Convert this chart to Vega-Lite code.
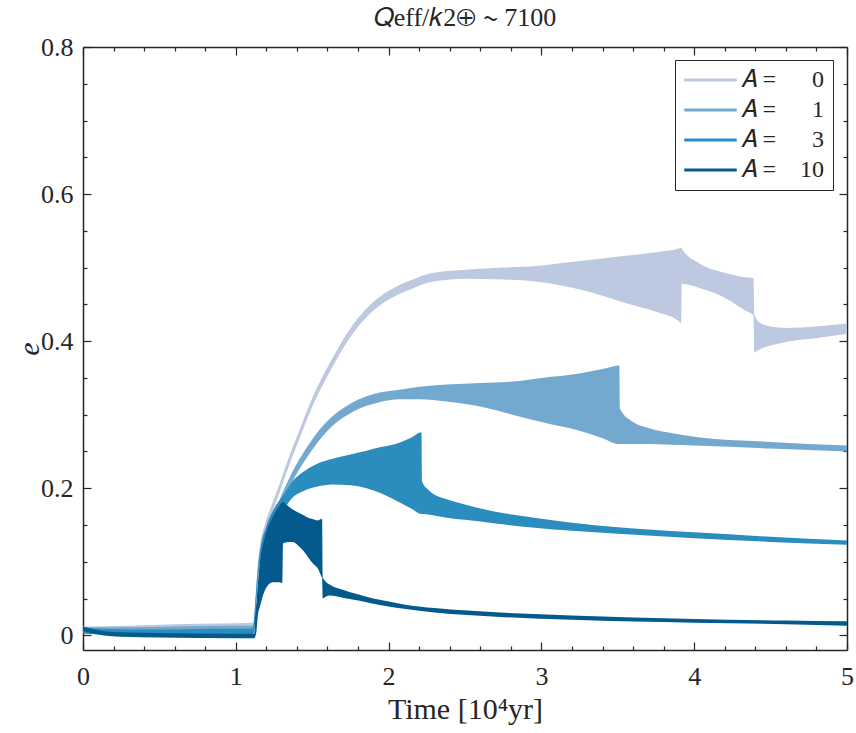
{
  "$schema": "https://vega.github.io/schema/vega-lite/v6.json",
  "width": 764,
  "height": 603,
  "autosize": {"type": "none"},
  "padding": {"left": 83, "top": 47, "right": 9, "bottom": 83},
  "background": "white",
  "config": {
    "view": {"stroke": null},
    "font": "Liberation Serif",
    "axis": {"labelFont": "Liberation Serif", "titleFont": "Liberation Serif"},
    "legend": {"labelFont": "Liberation Serif"}
  },
  "title": {
    "text": "𝑄eff/𝑘2⊕ ∼ 7100",
    "font": "Liberation Serif",
    "fontSize": 26,
    "fontWeight": "normal",
    "color": "#262626",
    "anchor": "middle",
    "offset": 3
  },
  "data": {
    "values": [
      {"s": "0", "x": 0, "lo": 0.004, "hi": 0.012},
      {"s": "0", "x": 0.3, "lo": 0.005, "hi": 0.013},
      {"s": "0", "x": 0.6, "lo": 0.005, "hi": 0.015},
      {"s": "0", "x": 0.9, "lo": 0.005, "hi": 0.016},
      {"s": "0", "x": 1.11, "lo": 0.005, "hi": 0.017},
      {"s": "0", "x": 1.12, "lo": 0.01, "hi": 0.025},
      {"s": "0", "x": 1.13, "lo": 0.04, "hi": 0.055},
      {"s": "0", "x": 1.145, "lo": 0.083, "hi": 0.097},
      {"s": "0", "x": 1.16, "lo": 0.111, "hi": 0.124},
      {"s": "0", "x": 1.19, "lo": 0.139, "hi": 0.151},
      {"s": "0", "x": 1.22, "lo": 0.157, "hi": 0.169},
      {"s": "0", "x": 1.26, "lo": 0.179, "hi": 0.191},
      {"s": "0", "x": 1.3, "lo": 0.202, "hi": 0.214},
      {"s": "0", "x": 1.333, "lo": 0.222, "hi": 0.234},
      {"s": "0", "x": 1.418, "lo": 0.268, "hi": 0.28},
      {"s": "0", "x": 1.503, "lo": 0.312, "hi": 0.324},
      {"s": "0", "x": 1.614, "lo": 0.358, "hi": 0.37},
      {"s": "0", "x": 1.745, "lo": 0.404, "hi": 0.416},
      {"s": "0", "x": 1.84, "lo": 0.429, "hi": 0.441},
      {"s": "0", "x": 1.94, "lo": 0.448, "hi": 0.46},
      {"s": "0", "x": 2.05, "lo": 0.462, "hi": 0.474},
      {"s": "0", "x": 2.15, "lo": 0.471, "hi": 0.483},
      {"s": "0", "x": 2.27, "lo": 0.48, "hi": 0.492},
      {"s": "0", "x": 2.5, "lo": 0.485, "hi": 0.497},
      {"s": "0", "x": 2.75, "lo": 0.484, "hi": 0.5},
      {"s": "0", "x": 3.0, "lo": 0.48, "hi": 0.503},
      {"s": "0", "x": 3.12, "lo": 0.476, "hi": 0.506},
      {"s": "0", "x": 3.3, "lo": 0.468, "hi": 0.51},
      {"s": "0", "x": 3.55, "lo": 0.452, "hi": 0.516},
      {"s": "0", "x": 3.75, "lo": 0.44, "hi": 0.521},
      {"s": "0", "x": 3.9, "lo": 0.427, "hi": 0.526},
      {"s": "0", "x": 3.915, "lo": 0.424, "hi": 0.527},
      {"s": "0", "x": 3.918, "lo": 0.478, "hi": 0.526},
      {"s": "0", "x": 4.04, "lo": 0.472, "hi": 0.505},
      {"s": "0", "x": 4.2, "lo": 0.459, "hi": 0.493},
      {"s": "0", "x": 4.33, "lo": 0.442, "hi": 0.487},
      {"s": "0", "x": 4.388, "lo": 0.435, "hi": 0.486},
      {"s": "0", "x": 4.393, "lo": 0.385, "hi": 0.437},
      {"s": "0", "x": 4.43, "lo": 0.389, "hi": 0.425},
      {"s": "0", "x": 4.5, "lo": 0.394, "hi": 0.42},
      {"s": "0", "x": 4.6, "lo": 0.399, "hi": 0.418},
      {"s": "0", "x": 4.8, "lo": 0.404, "hi": 0.42},
      {"s": "0", "x": 5.0, "lo": 0.41, "hi": 0.424},

      {"s": "1", "x": 0, "lo": 0.003, "hi": 0.011},
      {"s": "1", "x": 0.3, "lo": 0.002, "hi": 0.011},
      {"s": "1", "x": 0.6, "lo": 0.002, "hi": 0.012},
      {"s": "1", "x": 0.9, "lo": 0.002, "hi": 0.013},
      {"s": "1", "x": 1.11, "lo": 0.002, "hi": 0.013},
      {"s": "1", "x": 1.12, "lo": 0.008, "hi": 0.022},
      {"s": "1", "x": 1.13, "lo": 0.038, "hi": 0.052},
      {"s": "1", "x": 1.145, "lo": 0.08, "hi": 0.094},
      {"s": "1", "x": 1.16, "lo": 0.106, "hi": 0.119},
      {"s": "1", "x": 1.2, "lo": 0.135, "hi": 0.147},
      {"s": "1", "x": 1.255, "lo": 0.157, "hi": 0.169},
      {"s": "1", "x": 1.31, "lo": 0.184, "hi": 0.196},
      {"s": "1", "x": 1.37, "lo": 0.209, "hi": 0.222},
      {"s": "1", "x": 1.46, "lo": 0.24, "hi": 0.254},
      {"s": "1", "x": 1.57, "lo": 0.271, "hi": 0.285},
      {"s": "1", "x": 1.65, "lo": 0.288, "hi": 0.301},
      {"s": "1", "x": 1.75, "lo": 0.302, "hi": 0.315},
      {"s": "1", "x": 1.856, "lo": 0.312, "hi": 0.325},
      {"s": "1", "x": 1.94, "lo": 0.317, "hi": 0.33},
      {"s": "1", "x": 2.07, "lo": 0.321, "hi": 0.334},
      {"s": "1", "x": 2.2, "lo": 0.321, "hi": 0.338},
      {"s": "1", "x": 2.38, "lo": 0.318, "hi": 0.341},
      {"s": "1", "x": 2.6, "lo": 0.311, "hi": 0.343},
      {"s": "1", "x": 2.81, "lo": 0.3, "hi": 0.345},
      {"s": "1", "x": 3.0, "lo": 0.29, "hi": 0.35},
      {"s": "1", "x": 3.25, "lo": 0.278, "hi": 0.356},
      {"s": "1", "x": 3.4, "lo": 0.268, "hi": 0.362},
      {"s": "1", "x": 3.51, "lo": 0.26, "hi": 0.367},
      {"s": "1", "x": 3.514, "lo": 0.26, "hi": 0.308},
      {"s": "1", "x": 3.6, "lo": 0.26, "hi": 0.29},
      {"s": "1", "x": 3.7, "lo": 0.26, "hi": 0.282},
      {"s": "1", "x": 3.85, "lo": 0.259, "hi": 0.275},
      {"s": "1", "x": 4.0, "lo": 0.258, "hi": 0.27},
      {"s": "1", "x": 4.5, "lo": 0.254, "hi": 0.263},
      {"s": "1", "x": 5.0, "lo": 0.25, "hi": 0.258},

      {"s": "3", "x": 0, "lo": 0.002, "hi": 0.01},
      {"s": "3", "x": 0.3, "lo": 0.0, "hi": 0.008},
      {"s": "3", "x": 0.6, "lo": 0.0, "hi": 0.008},
      {"s": "3", "x": 0.9, "lo": 0.0, "hi": 0.009},
      {"s": "3", "x": 1.11, "lo": 0.0, "hi": 0.009},
      {"s": "3", "x": 1.12, "lo": 0.006, "hi": 0.02},
      {"s": "3", "x": 1.13, "lo": 0.035, "hi": 0.05},
      {"s": "3", "x": 1.145, "lo": 0.077, "hi": 0.09},
      {"s": "3", "x": 1.16, "lo": 0.102, "hi": 0.115},
      {"s": "3", "x": 1.2, "lo": 0.133, "hi": 0.148},
      {"s": "3", "x": 1.25, "lo": 0.155, "hi": 0.172},
      {"s": "3", "x": 1.31, "lo": 0.17, "hi": 0.19},
      {"s": "3", "x": 1.37, "lo": 0.187, "hi": 0.209},
      {"s": "3", "x": 1.44, "lo": 0.196, "hi": 0.222},
      {"s": "3", "x": 1.53, "lo": 0.202, "hi": 0.233},
      {"s": "3", "x": 1.634, "lo": 0.205, "hi": 0.24},
      {"s": "3", "x": 1.75, "lo": 0.204, "hi": 0.246},
      {"s": "3", "x": 1.856, "lo": 0.2, "hi": 0.251},
      {"s": "3", "x": 1.95, "lo": 0.193, "hi": 0.256},
      {"s": "3", "x": 2.07, "lo": 0.181, "hi": 0.262},
      {"s": "3", "x": 2.15, "lo": 0.172, "hi": 0.269},
      {"s": "3", "x": 2.215, "lo": 0.165, "hi": 0.276},
      {"s": "3", "x": 2.219, "lo": 0.165, "hi": 0.209},
      {"s": "3", "x": 2.27, "lo": 0.164, "hi": 0.196},
      {"s": "3", "x": 2.38, "lo": 0.16, "hi": 0.185},
      {"s": "3", "x": 2.5, "lo": 0.157, "hi": 0.178},
      {"s": "3", "x": 2.7, "lo": 0.152, "hi": 0.168},
      {"s": "3", "x": 2.92, "lo": 0.147, "hi": 0.161},
      {"s": "3", "x": 3.2, "lo": 0.142, "hi": 0.153},
      {"s": "3", "x": 3.5, "lo": 0.138, "hi": 0.147},
      {"s": "3", "x": 4.0, "lo": 0.132, "hi": 0.14},
      {"s": "3", "x": 4.5, "lo": 0.127, "hi": 0.134},
      {"s": "3", "x": 5.0, "lo": 0.123, "hi": 0.129},

      {"s": "10", "x": 0, "lo": 0.006, "hi": 0.012},
      {"s": "10", "x": 0.1, "lo": 0.001, "hi": 0.007},
      {"s": "10", "x": 0.25, "lo": -0.002, "hi": 0.004},
      {"s": "10", "x": 0.5, "lo": -0.003, "hi": 0.003},
      {"s": "10", "x": 1.0, "lo": -0.004, "hi": 0.002},
      {"s": "10", "x": 1.121, "lo": -0.004, "hi": 0.002},
      {"s": "10", "x": 1.125, "lo": -0.003, "hi": 0.02},
      {"s": "10", "x": 1.135, "lo": 0.005, "hi": 0.045},
      {"s": "10", "x": 1.145, "lo": 0.028, "hi": 0.072},
      {"s": "10", "x": 1.157, "lo": 0.038, "hi": 0.098},
      {"s": "10", "x": 1.19, "lo": 0.061, "hi": 0.133},
      {"s": "10", "x": 1.242, "lo": 0.072, "hi": 0.161},
      {"s": "10", "x": 1.28, "lo": 0.072, "hi": 0.174},
      {"s": "10", "x": 1.305, "lo": 0.071, "hi": 0.181},
      {"s": "10", "x": 1.309, "lo": 0.125, "hi": 0.181},
      {"s": "10", "x": 1.353, "lo": 0.127, "hi": 0.174},
      {"s": "10", "x": 1.373, "lo": 0.127, "hi": 0.171},
      {"s": "10", "x": 1.418, "lo": 0.12, "hi": 0.166},
      {"s": "10", "x": 1.438, "lo": 0.116, "hi": 0.164},
      {"s": "10", "x": 1.484, "lo": 0.103, "hi": 0.159},
      {"s": "10", "x": 1.503, "lo": 0.098, "hi": 0.158},
      {"s": "10", "x": 1.536, "lo": 0.091, "hi": 0.156},
      {"s": "10", "x": 1.56, "lo": 0.08, "hi": 0.158},
      {"s": "10", "x": 1.565, "lo": 0.078, "hi": 0.158},
      {"s": "10", "x": 1.569, "lo": 0.05, "hi": 0.079},
      {"s": "10", "x": 1.585, "lo": 0.052, "hi": 0.074},
      {"s": "10", "x": 1.614, "lo": 0.054, "hi": 0.069},
      {"s": "10", "x": 1.7, "lo": 0.051, "hi": 0.062},
      {"s": "10", "x": 1.81, "lo": 0.047, "hi": 0.055},
      {"s": "10", "x": 1.9, "lo": 0.043, "hi": 0.05},
      {"s": "10", "x": 2.0, "lo": 0.039, "hi": 0.046},
      {"s": "10", "x": 2.1, "lo": 0.036, "hi": 0.042},
      {"s": "10", "x": 2.3, "lo": 0.031, "hi": 0.037},
      {"s": "10", "x": 2.73, "lo": 0.025, "hi": 0.031},
      {"s": "10", "x": 3.2, "lo": 0.021, "hi": 0.027},
      {"s": "10", "x": 4.0, "lo": 0.017, "hi": 0.022},
      {"s": "10", "x": 4.6, "lo": 0.015, "hi": 0.02},
      {"s": "10", "x": 5.0, "lo": 0.013, "hi": 0.019}
    ]
  },
  "layer": [
    {
      "encoding": {
        "x": {
          "field": "x",
          "type": "quantitative",
          "scale": {"domain": [0, 5], "nice": false, "zero": false},
          "axis": {
            "orient": "bottom",
            "title": "Time [10⁴yr]",
            "titleFont": "Liberation Serif",
            "titleFontSize": 30,
            "titleFontWeight": "normal",
            "titleColor": "#262626",
            "titlePadding": 1,
            "values": [0, 0.2, 0.4, 0.6, 0.8, 1, 1.2, 1.4, 1.6, 1.8, 2, 2.2, 2.4, 2.6, 2.8, 3, 3.2, 3.4, 3.6, 3.8, 4, 4.2, 4.4, 4.6, 4.8, 5],
            "labelExpr": "abs(datum.value - round(datum.value)) < 1e-6 ? format(datum.value, 'd') : ''",
            "labelFont": "Liberation Serif",
            "labelFontSize": 26,
            "labelColor": "#262626",
            "labelFlush": false,
            "labelOverlap": false,
            "labelPadding": 21,
            "tickSize": {"condition": {"test": "abs(datum.value - round(datum.value)) < 1e-6", "value": -8}, "value": -4},
            "tickColor": "#262626",
            "tickWidth": 1.2,
            "domainColor": "#262626",
            "domainWidth": 1.5,
            "grid": false
          }
        },
        "y": {
          "field": "lo",
          "type": "quantitative",
          "scale": {"domain": [-0.02, 0.8], "nice": false, "zero": false},
          "axis": {
            "orient": "left",
            "title": "e",
            "titleFont": "Liberation Serif",
            "titleFontSize": 30,
            "titleFontStyle": "italic",
            "titleFontWeight": "normal",
            "titleColor": "#262626",
            "titlePadding": -4,
            "values": [0, 0.05, 0.1, 0.15, 0.2, 0.25, 0.3, 0.35, 0.4, 0.45, 0.5, 0.55, 0.6, 0.65, 0.7, 0.75, 0.8],
            "labelExpr": "abs(datum.value * 5 - round(datum.value * 5)) < 1e-6 ? format(datum.value, '.1~f') : ''",
            "labelFont": "Liberation Serif",
            "labelFontSize": 26,
            "labelColor": "#262626",
            "labelFlush": false,
            "labelOverlap": false,
            "labelPadding": 18,
            "tickSize": {"condition": {"test": "abs(datum.value * 5 - round(datum.value * 5)) < 1e-6", "value": -8}, "value": -4},
            "tickColor": "#262626",
            "tickWidth": 1.2,
            "domainColor": "#262626",
            "domainWidth": 1.5,
            "grid": false
          }
        },
        "color": {
          "field": "s",
          "type": "nominal",
          "scale": {"domain": ["0", "1", "3", "10"], "range": ["#bdc9e1", "#74a9cf", "#2b8cbe", "#045a8d"]},
          "legend": {
            "title": null,
            "orient": "none",
            "legendX": 592,
            "legendY": 13,
            "symbolType": "M-2.5,0H2.5",
            "symbolSize": 441,
            "symbolOffset": 15.5,
            "symbolStrokeWidth": 3,
            "labelFont": "Liberation Serif",
            "labelFontSize": 24,
            "labelColor": "#262626",
            "labelOffset": 18,
            "labelExpr": "'𝐴 =' + (datum.label == '10' ? '\u2007\u2007' : '\u2007\u2007\u2007') + datum.label",
            "rowPadding": 6,
            "padding": 8,
            "strokeColor": "#262626",
            "fillColor": "white",
            "encode": {
              "symbols": {
                "update": {
                  "stroke": {"scale": "color", "field": "value"},
                  "strokeWidth": {"value": 3},
                  "opacity": {"value": 1}
                }
              }
            }
          }
        }
      },
      "layer": [
        {"transform": [{"filter": "datum.s === '0'"}], "mark": {"type": "area", "interpolate": "monotone", "clip": true}, "encoding": {"y2": {"field": "hi"}}},
        {"transform": [{"filter": "datum.s === '1'"}], "mark": {"type": "area", "interpolate": "monotone", "clip": true}, "encoding": {"y2": {"field": "hi"}}},
        {"transform": [{"filter": "datum.s === '3'"}], "mark": {"type": "area", "interpolate": "monotone", "clip": true}, "encoding": {"y2": {"field": "hi"}}},
        {"transform": [{"filter": "datum.s === '10'"}], "mark": {"type": "area", "interpolate": "monotone", "clip": true}, "encoding": {"y2": {"field": "hi"}}}
      ]
    },
    {
      "mark": {"type": "point", "opacity": 0},
      "encoding": {
        "x": {
          "field": "x",
          "type": "quantitative",
          "scale": {"domain": [0, 5], "nice": false, "zero": false},
          "axis": {
            "orient": "top",
            "title": null,
            "labels": false,
            "values": [0, 0.2, 0.4, 0.6, 0.8, 1, 1.2, 1.4, 1.6, 1.8, 2, 2.2, 2.4, 2.6, 2.8, 3, 3.2, 3.4, 3.6, 3.8, 4, 4.2, 4.4, 4.6, 4.8, 5],
            "tickSize": {"condition": {"test": "abs(datum.value - round(datum.value)) < 1e-6", "value": -8}, "value": -4},
            "tickColor": "#262626",
            "tickWidth": 1.2,
            "domainColor": "#262626",
            "domainWidth": 1.5,
            "grid": false
          }
        },
        "y": {
          "field": "lo",
          "type": "quantitative",
          "scale": {"domain": [-0.02, 0.8], "nice": false, "zero": false},
          "axis": {
            "orient": "right",
            "title": null,
            "labels": false,
            "values": [0, 0.05, 0.1, 0.15, 0.2, 0.25, 0.3, 0.35, 0.4, 0.45, 0.5, 0.55, 0.6, 0.65, 0.7, 0.75, 0.8],
            "tickSize": {"condition": {"test": "abs(datum.value * 5 - round(datum.value * 5)) < 1e-6", "value": -8}, "value": -4},
            "tickColor": "#262626",
            "tickWidth": 1.2,
            "domainColor": "#262626",
            "domainWidth": 1.5,
            "grid": false
          }
        }
      }
    }
  ],
  "resolve": {"axis": {"x": "independent", "y": "independent"}}
}
